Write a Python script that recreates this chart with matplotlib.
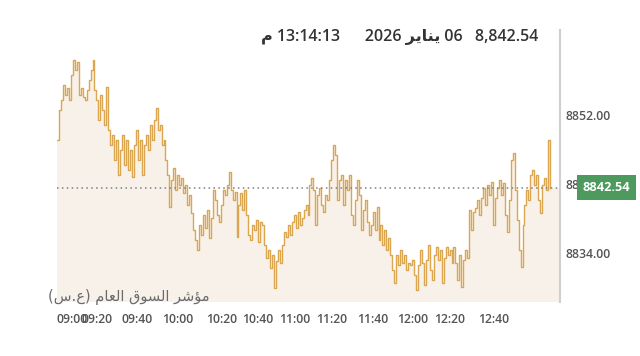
import numpy as np
import matplotlib
matplotlib.use("Agg")
import matplotlib.pyplot as plt
import matplotlib.transforms as mtransforms

# ---- data (index values) ----
values = [
    8848.7, 8852.7, 8854.0, 8855.9, 8854.6, 8855.5, 8854.0, 8857.2, 8859.2, 8857.9,
    8858.9, 8854.6, 8855.5, 8854.4, 8854.0, 8855.3, 8856.6, 8857.9, 8859.2, 8855.3,
    8854.0, 8851.4, 8854.6, 8852.7, 8850.7, 8855.6, 8850.0, 8848.1, 8849.4, 8846.1,
    8848.7, 8844.2, 8847.4, 8849.4, 8845.5, 8848.7, 8844.8, 8847.4, 8843.9, 8848.1,
    8850.0, 8846.1, 8848.7, 8844.2, 8848.1, 8849.4, 8847.4, 8850.7, 8848.7, 8851.4,
    8852.9, 8850.0, 8850.7, 8848.1, 8848.7, 8846.1, 8844.2, 8840.0, 8843.5, 8845.1,
    8842.2, 8844.2, 8842.9, 8843.8, 8841.8, 8842.9, 8840.3, 8841.6, 8839.2, 8837.0,
    8835.7, 8834.4, 8837.7, 8836.4, 8839.0, 8837.3, 8839.6, 8836.0, 8838.6, 8842.2,
    8840.9, 8839.0, 8838.1, 8840.3, 8842.2, 8841.6, 8842.9, 8844.6, 8842.2, 8840.9,
    8842.0, 8836.1, 8840.3, 8841.8, 8839.6, 8842.2, 8839.0, 8836.4, 8835.7, 8837.7,
    8837.0, 8838.3, 8835.4, 8838.0, 8837.7, 8835.1, 8833.4, 8834.4, 8832.1, 8833.7,
    8829.4, 8833.0, 8834.4, 8832.7, 8835.1, 8836.7, 8836.1, 8837.7, 8836.4, 8838.1,
    8839.0, 8837.3, 8839.4, 8837.7, 8838.6, 8839.6, 8840.3, 8839.0, 8842.9, 8843.8,
    8842.2, 8837.7, 8841.6, 8842.5, 8840.3, 8839.4, 8841.6, 8840.9, 8843.5, 8846.1,
    8848.1, 8846.8, 8840.9, 8843.5, 8844.2, 8840.3, 8843.5, 8842.2, 8844.2, 8839.0,
    8837.7, 8840.9, 8843.5, 8841.6, 8837.0, 8839.6, 8840.9, 8838.1, 8836.4, 8837.7,
    8839.4, 8837.0, 8840.0, 8835.7, 8837.7, 8835.1, 8837.0, 8834.4, 8836.0, 8833.7,
    8831.8, 8830.1, 8833.7, 8832.4, 8834.4, 8832.7, 8833.7, 8831.8, 8832.7, 8832.4,
    8833.1, 8831.1, 8829.2, 8832.4, 8834.4, 8832.7, 8829.8, 8833.1, 8835.1, 8831.8,
    8830.5, 8833.7, 8834.8, 8833.1, 8834.4, 8830.1, 8833.4, 8834.8, 8833.7, 8834.4,
    8832.7, 8834.8, 8832.7, 8830.5, 8833.7, 8829.6, 8833.1, 8834.4, 8833.4, 8839.6,
    8837.0, 8839.4, 8839.9, 8840.9, 8839.0, 8841.2, 8842.5, 8840.3, 8842.9, 8841.6,
    8843.3, 8837.7, 8841.2, 8842.5, 8843.5, 8841.6, 8843.1, 8839.0, 8836.7, 8840.9,
    8846.1, 8847.0, 8842.2, 8838.3, 8834.4, 8832.2, 8837.7, 8840.3, 8842.2, 8840.9,
    8844.2, 8844.8, 8842.9, 8844.2, 8840.9, 8839.2, 8842.9, 8843.8, 8842.2, 8848.7,
    8842.54,
]
last_value = 8842.54
x_tick_pos = [7.5, 20.5, 40.5, 61, 83.5, 102, 120.5, 139, 160, 180.5, 199, 221.5]
x_tick_labels = ["09:00", "09:20", "09:40", "10:00", "10:20", "10:40",
                 "11:00", "11:20", "11:40", "12:00", "12:20", "12:40"]
y_ticks = [8834, 8843, 8852]

# Arabic strings (presentation forms, visual order)
yanayir = "\uFEAE\uFEF3\uFE8E\uFEE8\uFEF3"          # يناير
pm = "\uFEE1"                                        # م
title_txt = f"{pm} 13:14:13      2026 {yanayir} 06   8,842.54"
mushir = "\uFEAE\uFEB7\uFE86\uFEE3"                  # مؤشر
souq = "\uFED5\uFEEE\uFEB4\uFEDF\uFE8D"              # السوق
aam = "\uFEE1\uFE8E\uFECC\uFEDF\uFE8D"               # العام
index_label = f"(\uFEB1.\uFEC9) {aam} {souq} {mushir}"

# ---- figure ----
fig = plt.figure(figsize=(6.4, 3.56), dpi=100)
ax = fig.add_axes([57/640, 54/356, 503/640, 272/356])

x = np.arange(len(values))
x_end = len(values) - 1 + 5.0
ymin, ymax = 8827.6, 8863.1
line_color = "#daa64f"
xf = np.append(x, x_end)
vf = np.append(values, last_value)
ax.fill_between(xf, vf, ymin, color="#f8f1ea", lw=0, step="post")
ax.plot(x, values, color=line_color, lw=1.0, drawstyle="steps-post")
ax.axhline(last_value, color="#7a7f88", lw=1.1, ls=(0, (1, 2.2)))

ax.set_xlim(0, x_end)
ax.set_ylim(ymin, ymax)

for s in ["top", "left", "bottom"]:
    ax.spines[s].set_visible(False)
ax.spines["right"].set_color("#cfcfcf")
ax.spines["right"].set_linewidth(1.5)

ax.yaxis.tick_right()
ax.set_yticks(y_ticks)
ax.set_yticklabels([f"{v:.2f}" for v in y_ticks])
ax.set_xticks(x_tick_pos)
ax.set_xticklabels(x_tick_labels)
ax.tick_params(axis="both", length=0, labelsize=8.8, labelcolor="#555555")
ax.tick_params(axis="y", pad=4)
ax.tick_params(axis="x", pad=8)
for lab in ax.get_xticklabels() + ax.get_yticklabels():
    lab.set_fontfamily(["Open Sans", "DejaVu Sans"])
    lab.set_fontweight("semibold")

# price badge
trans = mtransforms.blended_transform_factory(ax.transAxes, ax.transData)
ax.text(1.093, last_value, "8842.54", transform=trans, ha="center", va="center",
        color="white", fontsize=9.2, fontweight="bold", family=["Open Sans", "DejaVu Sans"],
        bbox=dict(boxstyle="square,pad=0.45", facecolor="#4e9a5e", edgecolor="none"),
        clip_on=False)

fig.text(538/640, 1 - 37/356, title_txt, ha="right", va="center", fontsize=11.5,
         color="#333333", family=["Open Sans", "DejaVu Sans"], fontweight="semibold")
fig.text(48/640, 1 - 297/356, index_label, ha="left", va="center", fontsize=10.5,
         color="#6b6b6b", family=["DejaVu Sans"])

fig.savefig("out.png", dpi=100)
